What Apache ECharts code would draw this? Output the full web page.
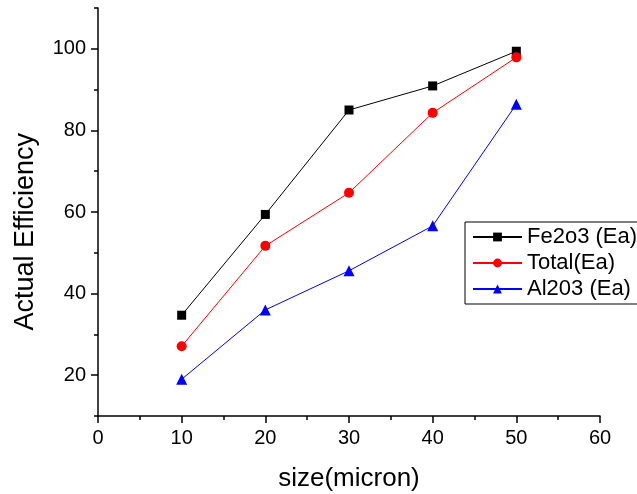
<!DOCTYPE html>
<html><head><meta charset="utf-8">
<script src="https://cdn.jsdelivr.net/npm/echarts@6/dist/echarts.min.js"></script>
<style>html,body{margin:0;padding:0;background:#fff}#c{width:637px;height:494px}</style>
</head><body><div id="c"></div>
<script>
const sizes = [10, 20, 30, 40, 50];
const fe2o3 = [34.7, 59.4, 85.0, 90.9, 99.4];
const total = [27.1, 51.7, 64.7, 84.3, 97.9];
const al2o3 = [19.0, 36.0, 45.6, 56.6, 86.4];
const yMajor = [20, 40, 60, 80, 100];
const yMinor = [10, 30, 50, 70, 90, 110];
const seriesNames = ['Fe2o3 (Ea)', 'Total(Ea)', 'Al203 (Ea)'];
const xTitle = 'size(micron)';
const yTitle = 'Actual Efficiency';

const F = 'Liberation Sans, Arial, sans-serif';
const pair = (ys) => sizes.map((x, i) => [x, ys[i]]);
const chart = echarts.init(document.getElementById('c'), null, {renderer: 'canvas'});
chart.setOption({
  backgroundColor: '#fff',
  animation: false,
  textStyle: {fontFamily: F},
  grid: {left: 98, right: 37, top: 8, bottom: 78, containLabel: false, outerBoundsMode: 'none'},
  graphic: [{
    type: 'text', left: 12, top: 133,
    rotation: Math.PI / 2,
    style: {text: yTitle, fontSize: 27, fill: '#000', fontFamily: F}
  }],
  legend: {
    orient: 'vertical', left: 465, top: 222,
    borderColor: '#000', borderWidth: 1, borderRadius: 0,
    padding: [4, 10, 4, 7], itemGap: 4, itemWidth: 49, itemHeight: 11,
    textStyle: {fontSize: 22, color: '#000', fontFamily: F},
    data: seriesNames
  },
  xAxis: {
    type: 'value', min: 0, max: 60, interval: 10,
    name: xTitle, nameLocation: 'middle', nameGap: 50,
    nameTextStyle: {fontSize: 26, color: '#000', fontFamily: F},
    axisLine: {lineStyle: {color: '#000', width: 1.5}},
    axisTick: {length: 7, lineStyle: {color: '#000', width: 1.5}},
    minorTick: {show: true, splitNumber: 2, length: 4, lineStyle: {color: '#000', width: 1.5}},
    axisLabel: {fontSize: 20, color: '#000', margin: 12, fontFamily: F},
    splitLine: {show: false}
  },
  yAxis: [{
    type: 'value', min: 10, max: 110, interval: 10,
    axisLine: {show: true, lineStyle: {color: '#000', width: 1.5}},
    axisTick: {show: true, length: 7, customValues: yMajor, lineStyle: {color: '#000', width: 1.5}},
    axisLabel: {fontSize: 20, color: '#000', margin: 12, customValues: yMajor, fontFamily: F},
    splitLine: {show: false}
  }, {
    type: 'value', min: 10, max: 110, interval: 10, position: 'left',
    axisLine: {show: false},
    axisTick: {show: true, length: 4, customValues: yMinor, lineStyle: {color: '#000', width: 1.5}},
    axisLabel: {show: false},
    splitLine: {show: false}
  }],
  series: [
    {name: seriesNames[0], type: 'line', data: pair(fe2o3), symbol: 'rect', symbolSize: 9,
     itemStyle: {color: '#000'}, lineStyle: {color: '#000', width: 1}},
    {name: seriesNames[1], type: 'line', data: pair(total), symbol: 'circle', symbolSize: 10,
     itemStyle: {color: '#ff0000'}, lineStyle: {color: '#ff0000', width: 1}},
    {name: seriesNames[2], type: 'line', data: pair(al2o3), symbol: 'triangle', symbolSize: 11,
     itemStyle: {color: '#0000ff'}, lineStyle: {color: '#0000ff', width: 1}}
  ]
});
</script></body></html>
